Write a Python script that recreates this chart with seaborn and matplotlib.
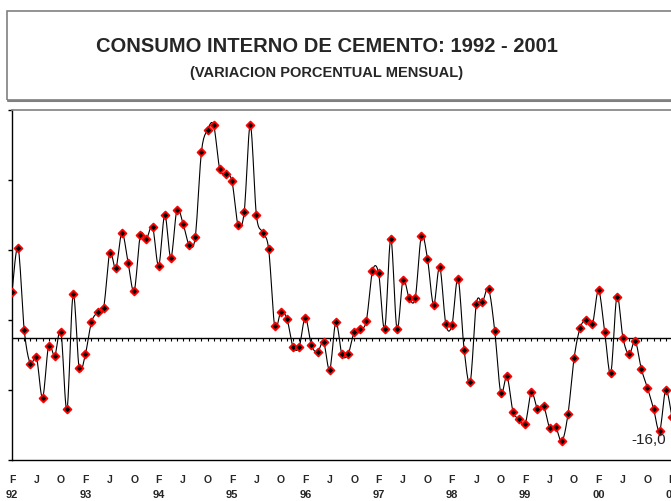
import numpy as np
import pandas as pd
import seaborn as sns
import matplotlib.pyplot as plt
from matplotlib.patches import Rectangle

# Variacion porcentual mensual, desde febrero de 1992
valores = [7.8, 15.4, 1.3, -4.5, -3.4, -10.3, -1.4, -3.1, 1.0, -12.3, 7.4, -5.3,
           -2.9, 2.6, 4.3, 5.1, 14.5, 11.9, 18.0, 12.8, 8.0, 17.5, 16.9, 19.0,
           12.3, 21.0, 13.7, 21.9, 19.5, 15.9, 17.3, 31.8, 35.6, 36.4, 28.9, 28.1,
           26.8, 19.3, 21.5, 36.4, 21.0, 18.0, 15.2, 1.9, 4.4, 3.2, -1.6, -1.6,
           3.4, -1.3, -2.5, -0.8, -5.5, 2.6, -2.9, -2.9, 0.9, 1.4, 2.9, 11.4,
           11.0, 1.5, 16.9, 1.5, 9.9, 6.8, 6.8, 17.4, 13.5, 5.6, 12.1, 2.3,
           2.1, 10.1, -2.1, -7.6, 5.8, 6.1, 8.3, 1.2, -9.5, -6.6, -12.7, -13.9,
           -14.8, -9.4, -12.2, -11.7, -15.5, -15.4, -17.8, -13.1, -3.5, 1.7, 3.0, 2.3,
           8.1, 1.0, -6.1, 7.0, -0.1, -2.9, -0.6, -5.4, -8.6, -12.2, -16.0, -9.0,
           -13.6]
meses = ["E", "F", "M", "A", "M", "J", "J", "A", "S", "O", "N", "D"]
anio_inicio = 1992
mes_inicio = 1          # febrero
etiqueta_punto = 106    # punto con rotulo
yticks = [-21, -9, 3, 15, 27, 39]

df = pd.DataFrame({"t": np.arange(len(valores)), "v": valores})


def suavizar(x, y, n=12):
    # curva suavizada tipo Excel (Bezier / Catmull-Rom)
    p = np.column_stack([x, y]).astype(float)
    p = np.vstack([p[0], p, p[-1]])
    xs, ys = [], []
    t = np.linspace(0, 1, n)[:, None]
    for i in range(1, len(p) - 2):
        p0, p1, p2, p3 = p[i - 1], p[i], p[i + 1], p[i + 2]
        c1 = p1 + (p2 - p0) / 6
        c2 = p2 - (p3 - p1) / 6
        b = ((1 - t) ** 3) * p1 + 3 * ((1 - t) ** 2) * t * c1 \
            + 3 * (1 - t) * t ** 2 * c2 + t ** 3 * p2
        xs.extend(b[:, 0])
        ys.extend(b[:, 1])
    return pd.DataFrame({"t": xs, "v": ys})


curva = suavizar(df["t"], df["v"])

sns.set_style("white")
plt.rcParams["font.family"] = ["Liberation Sans", "DejaVu Sans"]

fig = plt.figure(figsize=(6.71, 5.02), dpi=100)
W, H = 671, 502
px_mes = 6.11
x_max = 111
ax = fig.add_axes([12 / W, (H - 461) / H, x_max * px_mes / W, 350 / H])

sns.lineplot(data=curva, x="t", y="v", sort=False, color="black",
             linewidth=0.8, ax=ax, estimator=None)
sns.scatterplot(data=df, x="t", y="v", marker="D", s=16, color="black",
                edgecolor="red", linewidth=1.3, ax=ax, zorder=3)

# linea del cero con marcas mensuales
ax.axhline(0, color="black", linewidth=1.0, zorder=2)
ax.vlines(df["t"], -0.6, 0, color="black", linewidth=0.8, zorder=2)

ax.set_xlim(0, x_max)
ax.set_ylim(yticks[0], yticks[-1])
ax.set_yticks(yticks)
ax.set_yticklabels([])
ax.tick_params(axis="y", direction="out", length=3, width=1, color="black", left=True)

# etiquetas de meses y anios
n = len(valores)
pos_mes = [k for k in range(n) if k % 4 == 0]
lab_mes = [meses[(mes_inicio + k) % 12] for k in pos_mes]
pos_anio = [k for k in range(n) if k % 12 == 0]
lab_anio = [f"{(anio_inicio + k // 12) % 100:02d}" for k in pos_anio]
ax.set_xticks(pos_mes)
ax.set_xticklabels(lab_mes)
ax.set_xticks(pos_anio, minor=True)
ax.set_xticklabels(lab_anio, minor=True)
ax.xaxis.remove_overlapping_locs = False
ax.tick_params(axis="x", which="major", length=0, pad=10, labelsize=7.5)
ax.tick_params(axis="x", which="minor", length=0, pad=21, labelsize=8)
for lab in ax.get_xticklabels(minor=False) + ax.get_xticklabels(minor=True):
    lab.set_fontweight("bold")
ax.set_xlabel("")
ax.set_ylabel("")

for s in ["left", "bottom"]:
    ax.spines[s].set_color("black")
    ax.spines[s].set_linewidth(1.0)
ax.spines["top"].set_color("#808080")
ax.spines["top"].set_linewidth(1.2)
ax.spines["right"].set_visible(False)

ax.annotate(f"{valores[etiqueta_punto]:.1f}".replace(".", ","),
            (etiqueta_punto, valores[etiqueta_punto]),
            textcoords="offset pixels", xytext=(-11, -8),
            ha="center", va="center", fontsize=11, color="#222222")

# recuadro del titulo
fig.patches.append(Rectangle((7 / W, (H - 101) / H), 700 / W, 89 / H,
                             transform=fig.transFigure, fill=False,
                             edgecolor="#808080", linewidth=1.2))
fig.lines.append(plt.Line2D([8 / W, 1], [(H - 102) / H, (H - 102) / H],
                            transform=fig.transFigure, color="#808080",
                            linewidth=1.5))
fig.text(327 / W, 1 - 47 / H, "CONSUMO INTERNO DE CEMENTO: 1992 - 2001",
         ha="center", va="center", fontsize=14.5, fontweight="bold")
fig.text(327 / W, 1 - 73 / H, "(VARIACION PORCENTUAL MENSUAL)",
         ha="center", va="center", fontsize=10.5, fontweight="bold")

plt.savefig("out.png", dpi=100)
plt.close()
